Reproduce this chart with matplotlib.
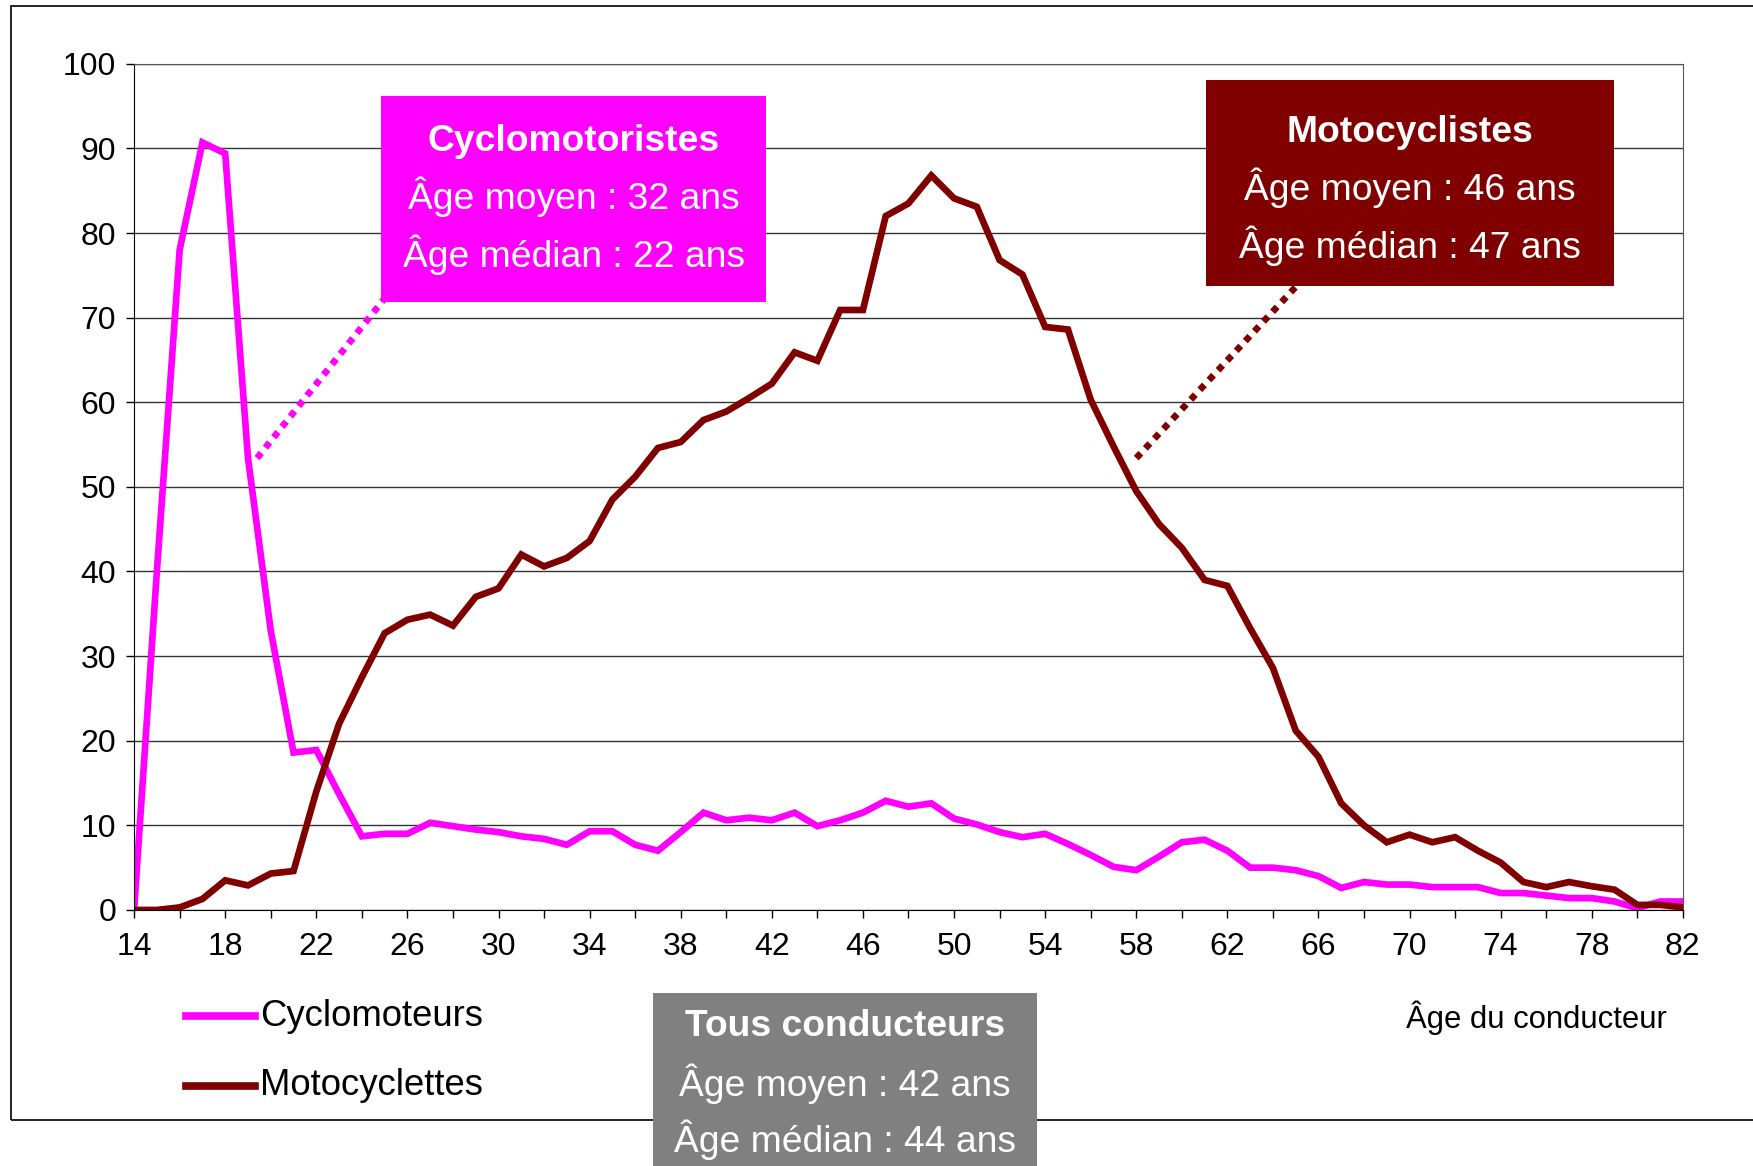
import matplotlib
matplotlib.use('Agg')
import matplotlib.pyplot as plt
import numpy as np
from matplotlib.patches import Rectangle
from matplotlib.lines import Line2D

plt.rcParams['font.family'] = ['Liberation Sans', 'DejaVu Sans']

ages = list(range(14, 83))
cyclomoteurs = [0, 40, 78, 90.7, 89.4, 53.4, 33, 18.6, 18.9, 13.7,
                8.7, 9, 9, 10.3, 9.9, 9.5, 9.2, 8.7, 8.4, 7.7,
                9.3, 9.3, 7.7, 7.0, 9.2, 11.5, 10.6, 10.9, 10.6, 11.5,
                9.9, 10.6, 11.5, 12.9, 12.2, 12.6, 10.8, 10.1, 9.2, 8.6,
                9.0, 7.8, 6.5, 5.1, 4.7, 6.3, 8.0, 8.3, 7.0, 5.0,
                5.0, 4.7, 4.0, 2.6, 3.3, 3.0, 3.0, 2.7, 2.7, 2.7,
                2.0, 2.0, 1.7, 1.4, 1.4, 1.0, 0.2, 1.0, 1.0]
motocyclettes = [0, 0, 0.3, 1.3, 3.5, 2.9, 4.3, 4.6, 14, 22,
                 27.5, 32.7, 34.3, 34.9, 33.6, 37, 38, 42, 40.6, 41.6,
                 43.6, 48.5, 51.2, 54.6, 55.3, 57.9, 58.9, 60.5, 62.2, 65.9,
                 64.9, 70.9, 70.9, 82, 83.5, 86.8, 84.1, 83.1, 76.8, 75.1,
                 68.9, 68.6, 60.3, 54.8, 49.5, 45.6, 42.8, 39, 38.3, 33.3,
                 28.6, 21.2, 18.1, 12.6, 10, 8, 8.9, 8, 8.6, 7,
                 5.6, 3.3, 2.7, 3.3, 2.8, 2.4, 0.6, 0.6, 0.3]

c_cyclo = '#FF00FF'
c_moto = '#800000'
c_all = '#808080'

fig = plt.figure(figsize=(17.53, 11.66), dpi=100)
ax = fig.add_axes([0.0765, 0.2196, 0.8835, 0.7257])

ax.plot(ages, cyclomoteurs, color=c_cyclo, lw=4.8, solid_joinstyle='miter')
ax.plot(ages, motocyclettes, color=c_moto, lw=4.8, solid_joinstyle='miter')

ax.set_xlim(14, 82)
ax.set_ylim(0, 100)
ax.set_yticks(range(0, 101, 10))
ax.set_xticks(range(14, 83, 4))
ax.set_xticks(range(14, 83, 2), minor=True)
ax.yaxis.grid(True, color='#333333', lw=1)
ax.set_axisbelow(True)
ax.tick_params(axis='both', labelsize=23, length=6, width=1, direction='out')
ax.tick_params(axis='x', which='minor', length=6, width=1)
ax.tick_params(axis='x', pad=10)
ax.tick_params(axis='y', pad=7)
for s in ['top', 'right']:
    ax.spines[s].set_color('#555555')

# dotted connectors
ax.plot([19.4, 24.95], [53.4, 72.1], color=c_cyclo, lw=4.8, ls=(0, (1, 1)), clip_on=False)
ax.plot([58.0, 65.06], [53.4, 73.8], color=c_moto, lw=4.8, ls=(0, (1, 1)), clip_on=False)

# outer frame
fig.add_artist(Rectangle((0.0064, 0.0393), 1.0, 0.9559, transform=fig.transFigure,
                         fill=False, ec='black', lw=1.2))

def callout(x0, x1, y0, y1, color, lines, ys):
    fig.add_artist(Rectangle((x0, y0), x1 - x0, y1 - y0, transform=fig.transFigure,
                             fc=color, ec='none', zorder=5))
    xc = (x0 + x1) / 2
    for i, (t, y) in enumerate(zip(lines, ys)):
        fig.text(xc, y, t, color='white', fontsize=26.8, ha='center', va='center',
                 fontweight='bold' if i == 0 else 'normal', zorder=6)

callout(0.2175, 0.4369, 0.7411, 0.9175, c_cyclo,
        ['Cyclomotoristes', 'Âge moyen : 32 ans', 'Âge médian : 22 ans'],
        [0.879, 0.831, 0.7814])
callout(0.6881, 0.9209, 0.7546, 0.931, c_moto,
        ['Motocyclistes', 'Âge moyen : 46 ans', 'Âge médian : 47 ans'],
        [0.8867, 0.8389, 0.7891])
callout(0.3724, 0.5918, 0.0, 0.1486, c_all,
        ['Tous conducteurs', 'Âge moyen : 42 ans', 'Âge médian : 44 ans'],
        [0.1197, 0.0709, 0.0221])

# legend
for y, c, lab in [(0.1285, c_cyclo, 'Cyclomoteurs'), (0.069, c_moto, 'Motocyclettes')]:
    fig.add_artist(Line2D([0.106, 0.1454], [y, y], transform=fig.transFigure, color=c, lw=5.5))
    fig.text(0.1486, y, lab, fontsize=26.3, ha='left', va='center')

fig.text(0.8023, 0.1275, 'Âge du conducteur', fontsize=22.3, ha='left', va='center')

plt.savefig('out.png', dpi=100)
plt.close()
